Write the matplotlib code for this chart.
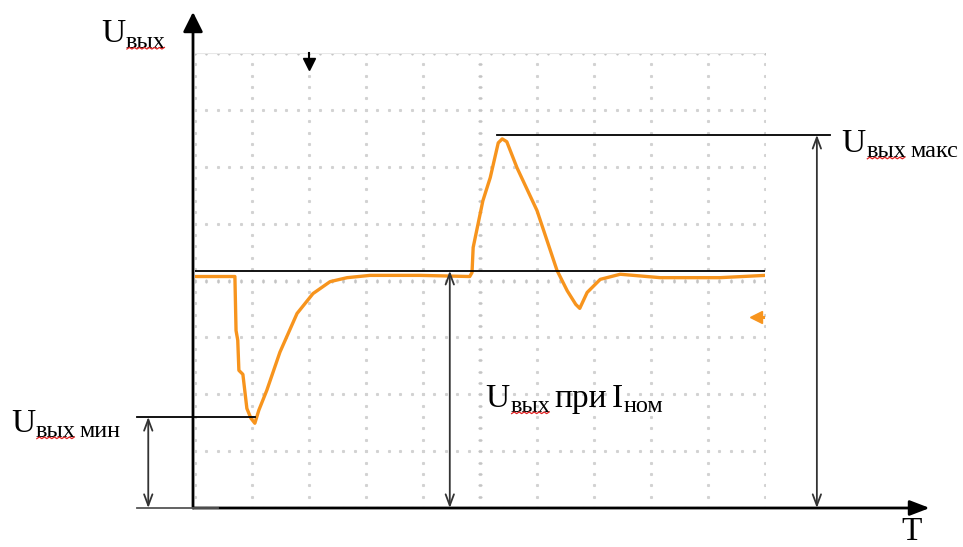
import numpy as np
import matplotlib
matplotlib.use("Agg")
from matplotlib import pyplot as plt
from matplotlib.lines import Line2D
from matplotlib.transforms import IdentityTransform

# oscilloscope trace, in screen divisions (10 x 8 grid)
t = [0.00, 0.70, 0.72, 0.75, 0.77, 0.84, 0.91, 0.98, 1.05, 1.12, 1.26, 1.49,
     1.79, 2.07, 2.37, 2.67, 3.07, 3.95, 4.82, 4.86, 4.88, 5.05, 5.18, 5.32,
     5.39, 5.47, 5.65, 6.00, 6.35, 6.53, 6.68, 6.75, 6.88, 7.11, 7.46, 8.16,
     9.21, 10.00]
u = [4.07, 4.07, 3.12, 2.95, 2.42, 2.35, 1.75, 1.58, 1.49, 1.72, 2.07, 2.74,
     3.42, 3.77, 3.98, 4.05, 4.09, 4.09, 4.07, 4.14, 4.58, 5.40, 5.81, 6.42,
     6.49, 6.44, 5.98, 5.23, 4.18, 3.82, 3.58, 3.51, 3.79, 4.02, 4.11, 4.05,
     4.05, 4.09]

u_nom = 4.17    # Uвых при Iном
u_max = 6.56    # Uвых макс
u_min = 1.60    # Uвых мин

orange = "#F7941D"
grey = "#d2d2d2"
serif = ["Liberation Serif", "DejaVu Serif"]

fig = plt.figure(figsize=(9.63, 5.47), dpi=100)
ax = fig.add_axes([195/963, 39/547, 570/963, 455/547])
ax.set_xlim(0, 10)
ax.set_ylim(0, 8)
ax.axis("off")

# grid of dots
fine_y = np.arange(0, 8.001, 0.2)
fine_x = np.arange(0, 10.001, 0.2)
for gx in range(11):
    ax.plot([gx]*len(fine_y), fine_y, ls="none", marker="s", ms=1.2, color=grey, zorder=1)
for gy in range(9):
    ax.plot(fine_x, [gy]*len(fine_x), ls="none", marker="s", ms=1.2, color=grey, zorder=1)
ax.plot(fine_x, [4]*len(fine_x), ls="none", marker="|", ms=3.5, color="#c4c4c4", zorder=1)
ax.plot([5]*len(fine_y), fine_y, ls="none", marker="_", ms=3.5, color="#c4c4c4", zorder=1)
ax.plot(fine_x, [8]*len(fine_x), ls="none", marker="|", ms=3, color="#c4c4c4", zorder=1)
ax.plot([0, 10], [8, 8], color="#e8e8e8", lw=0.8, zorder=1)

# trace
ax.plot(t, u, color=orange, lw=2.4, solid_joinstyle="round", zorder=3)

# small scope markers
ax.plot([2.0, 2.0], [8.0, 7.85], color="black", lw=1.5, clip_on=False, zorder=4)
ax.plot([2.0], [7.8], marker="v", ms=9, color="black", clip_on=False, zorder=4)
ax.plot([9.97, 9.80], [3.35, 3.35], color=orange, lw=2.2, clip_on=False, zorder=4)
ax.plot([9.84], [3.35], marker="<", ms=8, color=orange, clip_on=False, zorder=4)

# reference lines
ax.plot([0, 10], [u_nom, u_nom], color="black", lw=1.3, zorder=4)
ax.plot([5.30, 11.14], [u_max, u_max], color="black", lw=1.3, clip_on=False, zorder=4)
ax.plot([-1.02, 1.05], [u_min, u_min], color="black", lw=1.3, clip_on=False, zorder=4)
ax.plot([-1.02, 0.4], [0, 0], color="#555555", lw=1.3, clip_on=False, zorder=4)

# axes arrows
ax.annotate("", xy=(-0.035, 8.72), xytext=(-0.035, 0), annotation_clip=False,
            arrowprops=dict(arrowstyle="-|>,head_length=0.6,head_width=0.3",
                            mutation_scale=20, lw=2, color="black",
                            shrinkA=0, shrinkB=0))
ax.annotate("", xy=(12.89, 0), xytext=(-0.035, 0), annotation_clip=False,
            arrowprops=dict(arrowstyle="-|>,head_length=0.6,head_width=0.23",
                            mutation_scale=20, lw=2, color="black",
                            shrinkA=0, shrinkB=0))

# dimension arrows
for dx, y0, y1 in [(-0.82, 0, u_min), (4.47, 0, u_nom), (10.91, 0, u_max)]:
    ax.annotate("", xy=(dx, y1), xytext=(dx, y0), annotation_clip=False,
                arrowprops=dict(arrowstyle="<->,head_length=0.8,head_width=0.3",
                                lw=1.3, color="#333333", shrinkA=0, shrinkB=0))

# labels: pieces of (text, size, is_sub, squiggle)
big = 24
small = 17.5
subs = []


def label(x, y, parts):
    first = parts[0]
    prev = ax.text(x, y, first[0], fontsize=first[1], family=serif,
                   va="baseline", ha="left", clip_on=False)
    prev_sub = first[2]
    for text, size, is_sub, squig in parts[1:]:
        dy = 0
        if is_sub and not prev_sub:
            dy = -2.4
        elif prev_sub and not is_sub:
            dy = 2.4
        if is_sub and prev_sub:
            gap = 3
        elif is_sub:
            gap = 0.5
        else:
            gap = 3
        art = ax.annotate(text, xy=(1, 0), xycoords=prev, xytext=(gap, dy),
                          textcoords="offset points", fontsize=size,
                          family=serif, va="bottom", ha="left",
                          annotation_clip=False)
        if squig:
            subs.append(art)
        prev = art
        prev_sub = is_sub


label(-1.65, 8.19, [("U", big, False, False), ("вых", small, True, True)])
label(11.34, 6.26, [("U", big, False, False), ("вых", small, True, True),
                    ("макс", small, True, False)])
label(-3.23, 1.34, [("U", big, False, False), ("вых", small, True, True),
                    ("мин", small, True, False)])
label(5.10, 1.78, [("U", big, False, False), ("вых", small, True, True),
                   ("при", big, False, False), ("I", big, False, False),
                   ("ном", small, True, False)])
ax.text(12.40, -0.56, "T", fontsize=big, family=serif, va="baseline",
        ha="left", clip_on=False)

# red spell-check squiggles under "вых"
fig.canvas.draw()
for art in subs:
    bb = art.get_window_extent()
    xs = np.arange(bb.x0 + 1, bb.x1 - 1, 2.5)
    ys = [bb.y0 + 3.5 + (1.6 if i % 2 else 0) for i in range(len(xs))]
    fig.add_artist(Line2D(xs, ys, transform=IdentityTransform(),
                          color="#e02020", lw=0.9))

fig.savefig("out.png", dpi=100)
